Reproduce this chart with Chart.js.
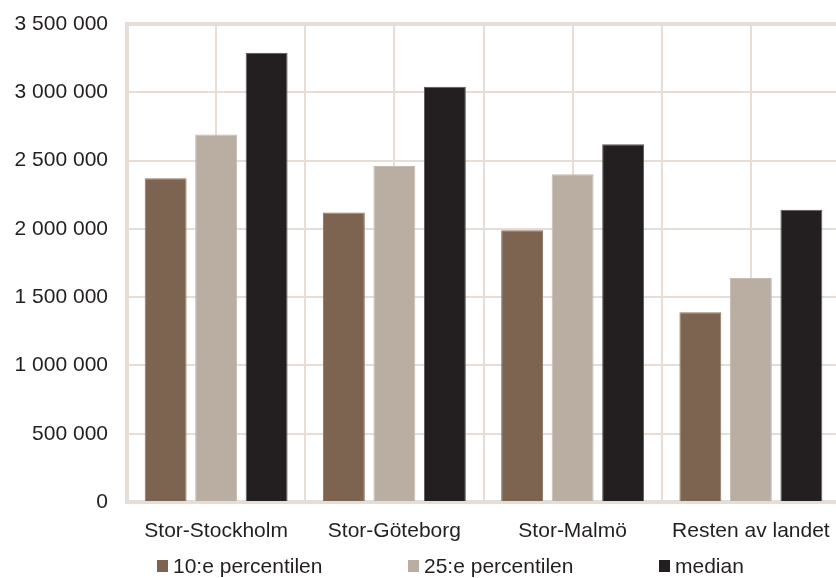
<!DOCTYPE html>
<html>
<head>
<meta charset="utf-8">
<script src="https://cdn.jsdelivr.net/npm/chart.js@4/dist/chart.umd.min.js"></script>
<style>
  html, body { margin: 0; padding: 0; background: #fff; overflow: hidden; }
  #wrap { position: relative; width: 840px; height: 578px; }
  #legend { position: absolute; left: 157px; top: 553px; display: flex;
            font-family: "Liberation Sans", Arial, sans-serif; font-size: 21px; color: #231f20; }
  .item { display: flex; align-items: center; width: 251px; height: 25px; }
  .box { width: 11px; height: 12px; margin-right: 5px; flex: none; }
</style>
</head>
<body>
<div id="wrap">
  <canvas id="c" width="840" height="578"></canvas>
  <div id="legend"></div>
</div>
<script>
// Boendekostnad per region: 10:e percentilen, 25:e percentilen och median (kr)
const categories = ['Stor-Stockholm', 'Stor-Göteborg', 'Stor-Malmö', 'Resten av landet'];
const seriesNames = ['10:e percentilen', '25:e percentilen', 'median'];
const p10 = [2370000, 2120000, 1990000, 1390000];
const p25 = [2690000, 2460000, 2400000, 1640000];
const median = [3290000, 3040000, 2620000, 2140000];
const yTicks = [0, 500000, 1000000, 1500000, 2000000, 2500000, 3000000, 3500000];

const colors = ['#7d6450', '#baada2', '#231f20'];
const borders = ['#8c7462', '#c6bab0', '#5b5758'];
const gridColor = '#e6ded6';
const textColor = '#231f20';
const font = { family: '"Liberation Sans", Arial, sans-serif', size: 21 };

const fmt = v => String(Math.round(v)).replace(/\B(?=(\d{3})+(?!\d))/g, ' ');

const chart = new Chart(document.getElementById('c'), {
  type: 'bar',
  data: {
    labels: categories,
    datasets: [p10, p25, median].map((d, i) => ({
      label: seriesNames[i],
      data: d,
      backgroundColor: colors[i],
      borderColor: borders[i],
      borderWidth: 1,
      categoryPercentage: 0.85,
      barPercentage: 0.83
    }))
  },
  options: {
    responsive: false,
    animation: false,
    devicePixelRatio: 1,
    layout: { padding: { top: 24, right: 0, left: 0, bottom: 0 } },
    plugins: { legend: { display: false }, tooltip: { enabled: false } },
    scales: {
      x: {
        offset: true,
        grid: { offset: true, color: gridColor, lineWidth: 2, drawTicks: false },
        border: { display: true, color: gridColor, width: 4 },
        ticks: { color: textColor, font, padding: 17, maxRotation: 0, autoSkip: false },
        afterFit: s => { s.height = 76; s.paddingLeft = 0; s.paddingRight = 0; }
      },
      x2: {
        type: 'category',
        labels: categories,
        position: 'bottom',
        offset: true,
        grid: { offset: false, color: gridColor, lineWidth: 2, drawTicks: false },
        border: { display: false },
        ticks: { display: false },
        afterFit: s => { s.height = 0; s.paddingLeft = 0; s.paddingRight = 0; }
      },
      y: {
        min: 0, max: 3500000,
        afterBuildTicks: s => { s.ticks = yTicks.map(v => ({ value: v })); },
        grid: { color: gridColor, lineWidth: ctx => ctx.tick && ctx.tick.value === 3500000 ? 4 : 2, drawTicks: false },
        border: { display: true, color: gridColor, width: 4 },
        ticks: { color: textColor, font, padding: 19, callback: v => fmt(v) },
        afterFit: s => { s.width = 127; s.paddingTop = 0; s.paddingBottom = 0; }
      }
    }
  }
});

// Legend built from the chart's own datasets
const legend = document.getElementById('legend');
chart.data.datasets.forEach(ds => {
  const item = document.createElement('div');
  item.className = 'item';
  const box = document.createElement('span');
  box.className = 'box';
  box.style.background = ds.backgroundColor;
  const txt = document.createElement('span');
  txt.textContent = ds.label;
  item.appendChild(box);
  item.appendChild(txt);
  legend.appendChild(item);
});
</script>
</body>
</html>
